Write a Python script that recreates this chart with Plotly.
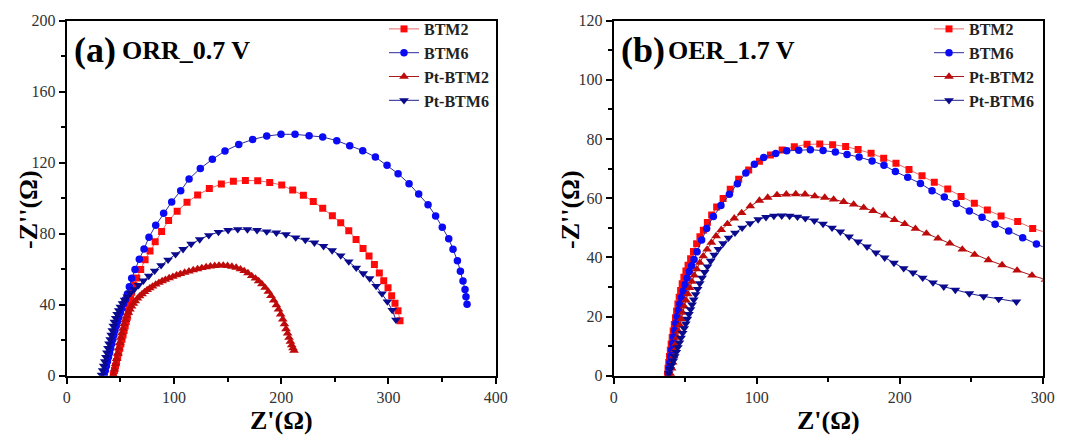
import plotly.graph_objects as go

# ---------------- data: panel (a) ORR_0.7 V ----------------
a_btm2_x = [43.5, 44.5, 45.5, 46.5, 47.5, 48.5, 49.5, 50.5, 51.5, 52.5,
            53.5, 54.5, 55.5, 56.5, 57.5, 58.6, 59.6, 60.6, 62.6, 65.3,
            69, 73.1, 77.7, 82.5, 88.5, 95, 103, 112.2, 122.1, 133,
            144.2, 155.4, 166.6, 178.1, 189.3, 200.5, 210.7, 220.7, 229.9, 238.7,
            247.7, 255.5, 263, 269.8, 276.3, 281.9, 286.9, 291.5, 295.6, 299.6,
            303, 306.1, 308.9, 310.8]
a_btm2_y = [0.5, 3, 5.5, 8, 10.5, 13, 15.5, 18, 20.5, 23,
            25.5, 28, 30.5, 33, 36, 39.5, 43.2, 47, 51, 55,
            59.9, 65.3, 70.3, 75.5, 81.2, 87.5, 92.7, 97.7, 101.8, 105.4,
            108, 109.5, 110, 109.9, 108.9, 107.4, 104.6, 101.6, 98.2, 94.3,
            90.1, 86.2, 81.7, 76.8, 71.7, 67.4, 62.7, 57.8, 53.5, 49.6,
            45.1, 40.8, 36.6, 31]

a_btm6_x = [35, 36, 37, 38, 39, 40, 41, 42, 43, 44,
            45, 46.2, 47.4, 48.6, 50, 51.5, 53, 54.8, 56.6, 58.4,
            60.6, 63.7, 67.7, 72.1, 76.7, 83, 90.4, 97.9, 106.3, 114.1,
            124.6, 135.8, 147.6, 160.4, 173.4, 186.5, 199.8, 212.9, 226, 238.7,
            251.8, 263.9, 276, 287.8, 298.7, 309, 319.2, 328.2, 336.9, 344,
            350.2, 356.2, 360.2, 364.3, 367.1, 369.5, 371.4, 372.3, 373.3]
a_btm6_y = [0.5, 3, 5.5, 8, 10.5, 13, 15.5, 18, 20.5, 23,
            25.5, 28, 30.5, 33, 35.5, 38, 40.5, 43, 46, 50.1,
            54.9, 59.9, 65.6, 71.4, 78, 84.7, 91.5, 97.9, 104.2, 110.8,
            116.8, 121.9, 126.6, 130.3, 133.1, 135, 136, 136, 135.2, 134.5,
            132.4, 129.6, 126.8, 123.2, 118.5, 113.8, 108.2, 102.3, 96.3, 90,
            83.6, 77.2, 71.2, 64.8, 58.8, 53.3, 48.6, 44.5, 40.2]

a_ptbtm2_x = [43.5, 44.5, 45.5, 46.5, 47.5, 48.5, 49.5, 50.5, 51.5, 52.5,
              53.5, 54.8, 56, 57.5, 59, 60.5, 62.2, 64, 66, 68,
              70.3, 72.6, 75, 77.5, 80, 83, 86, 89, 92, 95.5,
              99, 102.5, 106, 110, 114, 118, 122, 126, 130, 134,
              138, 142, 146, 150, 154, 158, 162, 165.5, 169, 172.5,
              176, 179, 182, 185, 188, 190.5, 193, 195.5, 197.5, 199.5,
              201.5, 203, 204.5, 206, 207.3, 208.6, 209.8, 211, 212]
a_ptbtm2_y = [0.5, 3.5, 6.5, 9.5, 12.5, 15.5, 18.5, 21.5, 24, 26.5,
              29, 31.5, 33.5, 35.5, 37.3, 39, 40.6, 42, 43.5, 44.8,
              46, 47.2, 48.3, 49.3, 50.3, 51.4, 52.4, 53.3, 54.1, 55,
              55.8, 56.6, 57.3, 58.1, 58.8, 59.5, 60.1, 60.7, 61.2, 61.6,
              61.9, 62.1, 62.1, 61.9, 61.5, 60.9, 60, 59, 57.8, 56.2,
              54.8, 53.3, 51.6, 49.6, 47.3, 45, 42.5, 39.8, 37.3, 34.6,
              31.8, 29, 26.3, 23.8, 21.4, 19.2, 17.2, 15.5, 14.2]

a_ptbtm6_x = [32.5, 33.5, 34.5, 35.5, 36.5, 37.5, 38.5, 39.5, 40.5, 41.5,
              42.5, 43.5, 44.5, 45.7, 47, 48.5, 50, 52, 54, 56.5,
              59.5, 63, 67, 71.5, 76.5, 82, 88, 94.5, 101.5, 108.5,
              116, 124, 132.5, 141.5, 150.5, 159.5, 168.5, 177.5, 186.5, 195.5,
              204.5, 213.5, 222.5, 231, 239.5, 247.5, 255.5, 263, 270, 276.5,
              282.5, 288.5, 294, 299, 303.5, 307]
a_ptbtm6_y = [0.5, 3, 5.5, 8, 10.5, 13, 15.5, 18, 20.5, 23,
              25.5, 28, 30.3, 32.5, 34.7, 36.8, 38.8, 40.8, 42.7, 44.6,
              46.6, 48.7, 51, 53.5, 56.2, 59.1, 62.2, 65.3, 68.4, 71.3,
              74.2, 76.8, 79.1, 80.9, 82, 82.5, 82.4, 82, 81.2, 80.6,
              79.6, 77.8, 76.5, 74.9, 73, 70.6, 67.7, 64.3, 60.8, 57.6,
              54.8, 50.5, 46.3, 41.8, 37, 31.5]

# ---------------- data: panel (b) OER_1.7 V ----------------
b_btm2_x = [37.6, 38, 38.5, 39, 39.6, 40.2, 40.9, 41.6, 42.4, 43.2,
            44, 44.9, 45.8, 46.8, 47.9, 49.1, 50.5, 52, 53.8, 55.8,
            58, 60.3, 62.7, 65.5, 68.5, 72, 76.5, 81.5, 87.4, 94.4,
            101.9, 109.6, 117.8, 126.3, 135.2, 144.1, 153.1, 162.2, 170.9, 180,
            188.8, 197.4, 206.5, 215.6, 224.2, 233.6, 242.9, 252.2, 261.3, 270.9,
            282.5, 293, 303]
b_btm2_y = [0.5, 2.5, 4.5, 6.5, 8.6, 10.7, 12.9, 15.1, 17.3, 19.6,
            21.9, 24.2, 26.5, 28.8, 31.1, 33.3, 35.4, 37.3, 39.5, 42,
            44.6, 47, 49.2, 51.8, 54.3, 57, 59.9, 63, 66.4, 69.5,
            72.5, 74.6, 76.3, 77.4, 78.2, 78.3, 78.1, 77.5, 76.5, 75.2,
            73.5, 71.8, 69.7, 67.6, 65.4, 63.1, 60.6, 58.3, 56, 54,
            52.1, 49.8, 48.3]

b_btm6_x = [38.4, 38.8, 39.3, 39.9, 40.5, 41.2, 41.9, 42.7, 43.5, 44.4,
            45.3, 46.3, 47.4, 48.7, 50, 51.4, 52.9, 54.5, 56.2, 58.3,
            61.5, 65, 69.7, 75, 80.9, 86.5, 92.4, 98.4, 104.9, 113.3,
            121, 129.4, 137.5, 146.4, 155, 163.2, 171.6, 180.7, 189, 197,
            205.6, 214.5, 222.6, 231.2, 239.6, 248.7, 257.6, 266.7, 276.2, 286,
            295.6, 304]
b_btm6_y = [0.5, 2.5, 4.5, 6.6, 8.7, 10.9, 13.1, 15.4, 17.7, 20,
            22.2, 24.3, 26.5, 28.6, 30.8, 33, 35.2, 37.2, 39.3, 41.9,
            45.9, 49.8, 53.8, 57.5, 61.3, 64.9, 68.5, 71.5, 73.8, 75.1,
            76, 76.2, 76.4, 76.1, 75.6, 74.8, 73.9, 72.6, 71.1, 69,
            67.1, 65, 62.5, 60.4, 58.2, 55.7, 53.6, 51.2, 48.9, 46.6,
            44.5, 42.8]

b_ptbtm2_x = [39.8, 40.5, 41.2, 42, 42.8, 43.6, 44.4, 45.3, 46.2, 47.2,
              48.2, 49.3, 50.5, 51.8, 53.2, 54.7, 56.3, 58.1, 60.2, 62.6,
              65.3, 68.3, 71.6, 75.2, 79.5, 84.3, 89.5, 95.5, 101.9, 107.7,
              114.2, 120.7, 127.3, 133.8, 140.6, 147.6, 153.8, 160.8, 167.8, 174.8,
              181.4, 189.3, 196.3, 203.5, 211, 218.7, 226.8, 235, 243.8, 252.4,
              262, 271.6, 282.1, 292.5, 302]
b_ptbtm2_y = [0.5, 2.5, 4.5, 6.6, 8.7, 10.8, 12.9, 15, 17.1, 19.2,
              21.3, 23.4, 25.5, 27.6, 29.7, 31.8, 33.9, 36, 38.2, 40.4,
              42.7, 45, 47.2, 49.3, 51.3, 53.2, 55, 57.3, 59.2, 60.2,
              61.1, 61.3, 61.4, 61.3, 60.7, 60.2, 59.6, 58.8, 57.9, 56.8,
              55.7, 54.2, 52.7, 51.3, 49.7, 48.1, 46.4, 44.7, 42.7, 40.9,
              39.1, 37.4, 35.6, 33.9, 32.5]

b_ptbtm6_x = [38.5, 39.5, 40.5, 41.6, 42.7, 43.8, 44.9, 46, 47.1, 48.2,
              49.3, 50.4, 51.5, 52.6, 53.7, 54.8, 56, 57.3, 58.7, 60.2,
              61.8, 63.6, 65.6, 67.8, 70.3, 73.2, 76.5, 80.3, 84.8, 89.8,
              95.3, 101, 106.5, 112, 117.5, 123, 128.5, 134, 140.3, 146.4,
              152.7, 158.5, 164.6, 170.9, 177.2, 183.4, 189.5, 196, 202.8, 209.3,
              216.1, 223.3, 230.8, 238.9, 248.7, 258.7, 269.2, 281.6]
b_ptbtm6_y = [0.8, 2.2, 3.6, 5, 6.5, 8, 9.6, 11.2, 12.8, 14.4,
              16, 17.6, 19.2, 20.8, 22.4, 24, 25.7, 27.5, 29.3, 31.2,
              33.1, 35, 36.9, 38.8, 40.8, 42.8, 44.7, 46.6, 48.3, 50,
              51.5, 52.8, 53.6, 54, 54.1, 54, 53.7, 53.2, 52.4, 51.3,
              50, 48.7, 47, 45.3, 43.6, 41.6, 39.9, 38.1, 36.3, 34.8,
              33.1, 31.5, 30.1, 29, 27.8, 26.8, 25.9, 25]

series_names = ["BTM2", "BTM6", "Pt-BTM2", "Pt-BTM6"]
x_ticks_a = [0, 100, 200, 300, 400]
y_ticks_a = [0, 40, 80, 120, 160, 200]
x_ticks_b = [0, 100, 200, 300]
y_ticks_b = [0, 20, 40, 60, 80, 100, 120]

# ---------------- styles ----------------
W, H = 1067, 443
SERIF = "Liberation Serif"
styles = [
    dict(symbol="square", size=7, mcolor="#FF0A0A", lcolor="#E86A6A"),
    dict(symbol="circle", size=7.5, mcolor="#0A0AF5", lcolor="#2A2A9A"),
    dict(symbol="triangle-up", size=8.5, mcolor="#BE0A0A", lcolor="#A81818"),
    dict(symbol="triangle-down", size=8.5, mcolor="#0A0A8E", lcolor="#20208C"),
]

fig = go.Figure()
panels = [
    ("x", "y", "legend", [(a_btm2_x, a_btm2_y), (a_btm6_x, a_btm6_y),
                          (a_ptbtm2_x, a_ptbtm2_y), (a_ptbtm6_x, a_ptbtm6_y)]),
    ("x2", "y2", "legend2", [(b_btm2_x, b_btm2_y), (b_btm6_x, b_btm6_y),
                             (b_ptbtm2_x, b_ptbtm2_y), (b_ptbtm6_x, b_ptbtm6_y)]),
]
for xa, ya, lg, data in panels:
    for name, st, (xs, ys) in zip(series_names, styles, data):
        fig.add_trace(go.Scatter(
            x=xs, y=ys, name=name, mode="lines+markers",
            xaxis=xa, yaxis=ya, legend=lg,
            line=dict(color=st["lcolor"], width=1),
            marker=dict(symbol=st["symbol"], size=st["size"], color=st["mcolor"],
                        line=dict(width=0)),
        ))


def px_x(p):
    return p / W


def px_y(p):
    return 1 - p / H


dom_y = [px_y(375.7), px_y(20.7)]
axis_common = dict(
    showline=True, linecolor="black", linewidth=2, mirror=True,
    ticks="outside", ticklen=6, tickwidth=1.5, tickcolor="black",
    showgrid=False, zeroline=False, automargin=False,
    tickfont=dict(family=SERIF, size=16, color="#333"),
)
legend_common = dict(xanchor="left", yanchor="top", bgcolor="rgba(0,0,0,0)",
                     borderwidth=0, itemwidth=30,
                     font=dict(family=SERIF, size=16, color="#222", weight="bold"))
fig.update_layout(
    width=W, height=H, autosize=False,
    margin=dict(l=0, r=0, t=0, b=0, autoexpand=False),
    paper_bgcolor="white", plot_bgcolor="white",
    showlegend=True,
    xaxis=dict(domain=[px_x(66.7), px_x(495.7)], range=[0, 400], tickvals=x_ticks_a,
               minor=dict(ticks="outside", dtick=50, ticklen=4, tickcolor="black", tickwidth=1.5),
               anchor="y", **axis_common),
    yaxis=dict(domain=dom_y, range=[0, 200], tickvals=y_ticks_a,
               minor=dict(ticks="outside", dtick=20, ticklen=4, tickcolor="black", tickwidth=1.5),
               anchor="x", **axis_common),
    xaxis2=dict(domain=[px_x(613.7), px_x(1042.7)], range=[0, 300], tickvals=x_ticks_b,
                minor=dict(ticks="outside", dtick=50, ticklen=4, tickcolor="black", tickwidth=1.5),
                anchor="y2", **axis_common),
    yaxis2=dict(domain=dom_y, range=[0, 120], tickvals=y_ticks_b,
                minor=dict(ticks="outside", dtick=10, ticklen=4, tickcolor="black", tickwidth=1.5),
                anchor="x2", **axis_common),
    legend=dict(x=px_x(384), y=px_y(12), **legend_common),
    legend2=dict(x=px_x(929), y=px_y(12), **legend_common),
)

ann = []


def text(x, y, s, size, angle=0, xanchor="left"):
    ann.append(dict(x=px_x(x), y=px_y(y), xref="paper", yref="paper", text=s,
                    showarrow=False, xanchor=xanchor, yanchor="middle", textangle=angle,
                    font=dict(family=SERIF, size=size, color="black", weight="bold")))


text(72, 50, "(a)", 36)
text(120, 51, "ORR_0.7 V", 26)
text(619, 50, "(b)", 36)
text(666, 51, "OER_1.7 V", 26)
text(281.5, 420, "Z'(Ω)", 26, xanchor="center")
text(828.5, 420, "Z'(Ω)", 26, xanchor="center")
text(28, 210, "-Z''(Ω)", 26, angle=-90, xanchor="center")
text(570, 210, "-Z''(Ω)", 26, angle=-90, xanchor="center")
fig.update_layout(annotations=ann)

fig.write_html("out.html")
